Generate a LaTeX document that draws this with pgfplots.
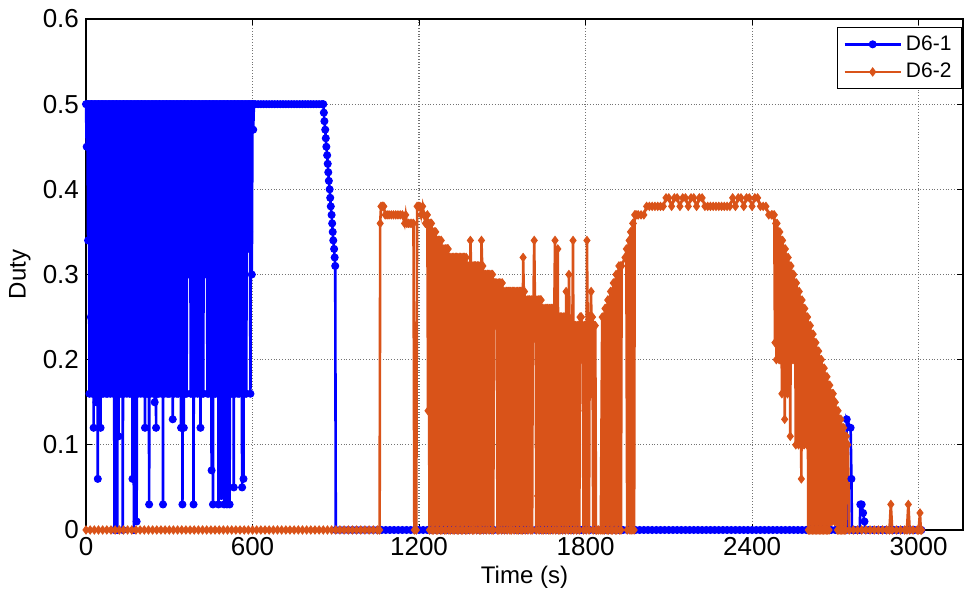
\documentclass[border=0pt]{standalone}
\usepackage{fontspec}
\setmainfont{Liberation Sans}
\usepackage{pgfplots}
\pgfplotsset{compat=1.18}
\definecolor{mblue}{RGB}{0,0,255}
\definecolor{morange}{RGB}{217,83,25}
\begin{document}
\begin{tikzpicture}
\useasboundingbox (-43pt,-34.5pt) rectangle (440pt,265pt);
\begin{axis}[
  at={(0,0)}, anchor=south west,
  scale only axis, width=438.5pt, height=255.5pt,
  xmin=0, xmax=3160, ymin=0, ymax=0.6,
  xtick={0,600,1200,1800,2400,3000},
  ytick={0,0.1,0.2,0.3,0.4,0.5,0.6},
  yticklabels={0,0.1,0.2,0.3,0.4,0.5,0.6},
  grid=major,
  grid style={black!55, densely dotted, line width=0.55pt},
  tick align=inside, major tick length=3pt,
  tick style={black, line width=0.5pt},
  axis line style={black, line width=0.6pt},
  /pgf/number format/assume math mode=true,
  /pgf/number format/1000 sep={},
  ticklabel style={font=\fontsize{13}{15}\selectfont},
  xlabel={Time (s)}, ylabel={Duty},
  every axis x label/.style={at={(axis description cs:0.5,-0.092)}, anchor=center},
  every axis y label/.style={at={(axis description cs:-0.0753,0.5)}, anchor=center, rotate=90},
  label style={font=\fontsize{12}{14}\selectfont},
  clip=false,
  legend style={at={(1,1)}, anchor=north east, xshift=-0.5pt, yshift=-4pt, draw=black, line width=0.5pt,
    font=\fontsize{10.5}{12}\selectfont, inner xsep=3pt, inner ysep=2pt, row sep=1pt, cells={anchor=west}},
  legend image code/.code={\draw[mark repeat=2,mark phase=2,#1] plot coordinates {(0pt,0pt) (14pt,0pt) (28pt,0pt)};},
]
\addplot[color=mblue, line width=1.3pt, mark=*, mark size=1.75pt, mark options={solid, fill=mblue, line width=0.5pt}] coordinates {
(0,0.5)(2.5,0.45)(5,0.5)(7.5,0.34)(10,0.5)(12.5,0.16)(15,0.5)(17.5,0.25)(20,0.5)(22.5,0.16)(25,0.5)(27.5,0.12)(30,0.5)(32.5,0.16)(35,0.5)(37.5,0.15)(40,0.5)(42.5,0.06)(45,0.5)(47.5,0.16)(50,0.5)(52.5,0.12)(55,0.5)(57.5,0.16)(60,0.5)(62.5,0.16)(65,0.5)(67.5,0.26)(70,0.5)(72.5,0.16)(75,0.5)(77.5,0.16)(80,0.5)(82.5,0.2)(85,0.5)(87.5,0.16)(90,0.5)(92.5,0.3)(95,0.5)(97.5,0.16)
(100,0.5)(102.5,0)(105,0.5)(107.5,0.16)(110,0.5)(112.5,0)(115,0.5)(117.5,0.11)(120,0.5)(122.5,0.16)(125,0.5)(127.5,0.16)(130,0.5)(132.5,0)(135,0.5)(137.5,0.16)(140,0.5)(142.5,0.2)(145,0.5)(147.5,0.16)(150,0.5)(152.5,0.38)(155,0.5)(157.5,0.16)(160,0.5)(162.5,0.16)(165,0.5)(167.5,0.06)(170,0.5)(172.5,0)(175,0.5)(177.5,0.16)(180,0.5)(182.5,0.01)(185,0.5)(187.5,0.16)(190,0.5)(192.5,0.3)(195,0.5)(197.5,0.16)
(200,0.5)(202.5,0.26)(205,0.5)(207.5,0.16)(210,0.5)(212.5,0.12)(215,0.5)(217.5,0.16)(220,0.5)(222.5,0.16)(225,0.5)(227.5,0.03)(230,0.5)(232.5,0.16)(235,0.5)(237.5,0.3)(240,0.5)(242.5,0.16)(245,0.5)(247.5,0.15)(250,0.5)(252.5,0.12)(255,0.5)(257.5,0.16)(260,0.5)(262.5,0.16)(265,0.5)(267.5,0.2)(270,0.5)(272.5,0.16)(275,0.5)(277.5,0.03)(280,0.5)(282.5,0.16)(285,0.5)(287.5,0.27)(290,0.5)(292.5,0.16)(295,0.5)(297.5,0.16)
(300,0.5)(302.5,0.16)(305,0.5)(307.5,0.3)(310,0.5)(312.5,0.13)(315,0.5)(317.5,0.16)(320,0.5)(322.5,0.25)(325,0.5)(327.5,0.16)(330,0.5)(332.5,0.16)(335,0.5)(337.5,0.2)(340,0.5)(342.5,0.12)(345,0.5)(347.5,0.03)(350,0.5)(352.5,0.12)(355,0.5)(357.5,0.16)(360,0.5)(362.5,0.16)(365,0.5)(367.5,0.3)(370,0.5)(372.5,0.38)(375,0.5)(377.5,0.16)(380,0.5)(382.5,0.16)(385,0.5)(387.5,0.03)(390,0.5)(392.5,0.16)(395,0.5)(397.5,0.2)
(400,0.5)(402.5,0.16)(405,0.5)(407.5,0.27)(410,0.5)(412.5,0.12)(415,0.5)(417.5,0.16)(420,0.5)(422.5,0.16)(425,0.5)(427.5,0.3)(430,0.5)(432.5,0.38)(435,0.5)(437.5,0.16)(440,0.5)(442.5,0.16)(445,0.5)(447.5,0.2)(450,0.5)(452.5,0.07)(455,0.5)(457.5,0.03)(460,0.5)(462.5,0.16)(465,0.5)(467.5,0.16)(470,0.5)(472.5,0.3)(475,0.5)(477.5,0.03)(480,0.5)(482.5,0.16)(485,0.5)(487.5,0.04)(490,0.5)(492.5,0.16)(495,0.5)(497.5,0.03)
(500,0.5)(502.5,0.16)(505,0.5)(507.5,0.03)(510,0.5)(512.5,0.16)(515,0.5)(517.5,0.03)(520,0.5)(522.5,0.16)(525,0.5)(527.5,0.16)(530,0.5)(532.5,0.05)(535,0.5)(537.5,0.16)(540,0.5)(542.5,0.22)(545,0.5)(547.5,0.16)(550,0.5)(552.5,0.16)(555,0.5)(557.5,0.3)(560,0.5)(562.5,0.05)(565,0.5)(567.5,0.06)(570,0.5)(572.5,0.16)(575,0.5)(577.5,0.16)(580,0.5)(582.5,0.33)(585,0.5)(587.5,0.35)(590,0.5)(592.5,0.16)(595,0.5)(597.5,0.3)(600,0.5)(602.5,0.47)(605,0.5)(610,0.5)
(620,0.5)(630,0.5)(640,0.5)(650,0.5)(660,0.5)(670,0.5)(680,0.5)(690,0.5)(700,0.5)(710,0.5)(720,0.5)(730,0.5)(740,0.5)(750,0.5)(760,0.5)(770,0.5)(780,0.5)(790,0.5)(800,0.5)(810,0.5)(820,0.5)(830,0.5)(840,0.5)(850,0.5)(855,0.5)
(857,0.49)(859,0.48)(862,0.47)(864,0.46)(866,0.45)(869,0.44)(871,0.43)(873,0.42)(875,0.41)(878,0.4)(880,0.39)(882,0.38)(885,0.37)(887,0.36)(889,0.35)(891,0.34)(894,0.33)(896,0.32)(898,0.31)(900,0)
(915,0)(930,0)(945,0)(960,0)(975,0)(990,0)(1005,0)(1020,0)(1035,0)(1050,0)(1065,0)(1080,0)(1095,0)(1110,0)(1125,0)(1140,0)(1155,0)(1170,0)(1185,0)(1200,0)(1215,0)(1230,0)(1245,0)(1260,0)(1275,0)(1290,0)(1305,0)(1320,0)(1335,0)(1350,0)(1365,0)(1380,0)(1395,0)(1410,0)(1425,0)(1440,0)(1455,0)(1470,0)(1485,0)(1500,0)(1515,0)(1530,0)(1545,0)(1560,0)(1575,0)(1590,0)(1605,0)(1620,0)(1635,0)(1650,0)(1665,0)(1680,0)(1695,0)(1710,0)(1725,0)(1740,0)(1755,0)(1770,0)(1785,0)(1800,0)(1815,0)(1830,0)(1845,0)(1860,0)(1875,0)(1890,0)(1905,0)(1920,0)(1935,0)(1950,0)(1965,0)(1980,0)(1995,0)(2010,0)(2025,0)(2040,0)(2055,0)(2070,0)(2085,0)(2100,0)(2115,0)(2130,0)(2145,0)(2160,0)(2175,0)(2190,0)(2205,0)(2220,0)(2235,0)(2250,0)(2265,0)(2280,0)(2295,0)(2310,0)(2325,0)(2340,0)(2355,0)(2370,0)(2385,0)(2400,0)(2415,0)(2430,0)(2445,0)(2460,0)(2475,0)(2490,0)(2505,0)(2520,0)(2535,0)(2550,0)(2565,0)(2580,0)(2595,0)(2610,0)(2625,0)(2640,0)(2655,0)(2670,0)(2685,0)(2700,0)(2715,0)(2730,0)
(2740,0)(2741,0.13)(2755,0.12)(2758,0.06)(2760,0)(2770,0)(2780,0)(2788,0)(2790,0.03)(2795,0.03)(2800,0.02)(2805,0.01)(2808,0)(2820,0)(2835,0)(2850,0)(2865,0)(2880,0)(2895,0)(2910,0)(2925,0)(2940,0)(2955,0)(2970,0)(2985,0)(3000,0)(3010,0)
};
\addlegendentry{D6-1}
\addplot[color=morange, line width=1.3pt, mark=diamond*, mark size=2pt, mark options={solid, fill=morange, line width=0.5pt}] coordinates {
(0,0)(15,0)(30,0)(45,0)(60,0)(75,0)(90,0)(105,0)(120,0)(135,0)(150,0)(165,0)(180,0)(195,0)(210,0)(225,0)(240,0)(255,0)(270,0)(285,0)(300,0)(315,0)(330,0)(345,0)(360,0)(375,0)(390,0)(405,0)(420,0)(435,0)(450,0)(465,0)(480,0)(495,0)(510,0)(525,0)(540,0)(555,0)(570,0)(585,0)(600,0)(615,0)(630,0)(645,0)(660,0)(675,0)(690,0)(705,0)(720,0)(735,0)(750,0)(765,0)(780,0)(795,0)(810,0)(825,0)(840,0)(855,0)(870,0)(885,0)(900,0)(915,0)(930,0)(945,0)(960,0)(975,0)(990,0)(1005,0)(1020,0)(1035,0)(1050,0)
(1058,0)(1060,0.36)(1063,0.38)(1068,0.38)(1073,0.38)(1078,0.37)(1085,0.37)(1092,0.37)(1100,0.37)(1108,0.37)(1116,0.37)(1124,0.37)(1132,0.37)(1140,0.37)(1148,0.36)(1152,0.37)(1156,0.36)(1162,0.36)(1168,0.36)(1174,0.36)(1180,0.36)(1183,0)(1190,0)(1193,0.38)(1198,0.38)(1203,0.38)(1208,0.37)(1213,0.38)(1218,0.37)(1223,0.36)(1227,0.36)
(1230,0.37)(1232.5,0.14)(1235,0.36)(1237.5,0)(1240,0.36)(1242.5,0.36)(1245,0.36)(1247.5,0)(1250,0.35)(1252.5,0)(1255,0.35)(1257.5,0.22)(1260,0.35)(1262.5,0)(1265,0.34)(1267.5,0)(1270,0.34)(1272.5,0.34)(1275,0.34)(1277.5,0)(1280,0.34)(1282.5,0)(1285,0.33)(1287.5,0.05)(1290,0.33)(1292.5,0)(1295,0.33)(1297.5,0)(1300,0.33)(1302.5,0.33)(1305,0.33)(1307.5,0)
(1310,0.32)(1312.5,0)(1315,0.32)(1317.5,0.1)(1320,0.32)(1322.5,0)(1325,0.32)(1327.5,0)(1330,0.32)(1332.5,0.32)(1335,0.32)(1337.5,0)(1340,0.32)(1342.5,0)(1345,0.32)(1347.5,0.18)(1350,0.32)(1352.5,0)(1355,0.32)(1357.5,0)(1360,0.32)(1362.5,0.32)(1365,0.32)(1367.5,0)(1370,0.32)(1372.5,0)(1375,0.31)(1377.5,0.02)(1380,0.31)(1382.5,0)(1385,0.34)(1387.5,0.31)(1390,0.31)(1392.5,0)(1395,0.31)(1397.5,0)(1400,0.31)(1402.5,0.31)(1405,0.31)(1407.5,0)
(1410,0.31)(1412.5,0.05)(1415,0.31)(1417.5,0)(1420,0.31)(1422.5,0)(1425,0.34)(1427.5,0.31)(1430,0.31)(1432.5,0)(1435,0.30)(1437.5,0.13)(1440,0.30)(1442.5,0)(1445,0.30)(1447.5,0.30)(1450,0.30)(1452.5,0)(1455,0.30)(1457.5,0.23)(1460,0.30)(1462.5,0)(1465,0.30)(1467.5,0)(1470,0.29)(1472.5,0.29)(1475,0.29)(1477.5,0.24)(1480,0.29)(1482.5,0)(1485,0.29)(1487.5,0)(1490,0.29)(1492.5,0.09)(1495,0.29)(1497.5,0)(1500,0.29)(1502.5,0.21)(1505,0.28)(1507.5,0)
(1510,0.28)(1512.5,0.08)(1515,0.28)(1517.5,0)(1520,0.28)(1522.5,0.28)(1525,0.28)(1527.5,0)(1530,0.28)(1532.5,0)(1535,0.28)(1537.5,0.28)(1540,0.28)(1542.5,0)(1545,0.28)(1547.5,0.03)(1550,0.28)(1552.5,0)(1555,0.28)(1557.5,0)(1560,0.28)(1562.5,0.28)(1565,0.28)(1567.5,0)(1570,0.28)(1572.5,0)(1575,0.32)(1577.5,0.28)(1580,0.28)(1582.5,0)(1585,0.27)(1587.5,0.12)(1590,0.27)(1592.5,0)(1595,0.27)(1597.5,0.27)(1600,0.27)(1602.5,0)(1605,0.27)(1607.5,0)
(1610,0.27)(1612.5,0.27)(1615,0.34)(1617.5,0.27)(1620,0.27)(1622.5,0)(1625,0.27)(1627.5,0.04)(1630,0.27)(1632.5,0)(1635,0.27)(1637.5,0.27)(1640,0.27)(1642.5,0)(1645,0.26)(1647.5,0)(1650,0.26)(1652.5,0.18)(1655,0.26)(1657.5,0)(1660,0.26)(1662.5,0.26)(1665,0.26)(1667.5,0)(1670,0.26)(1672.5,0)(1675,0.26)(1677.5,0.26)(1680,0.26)(1682.5,0)(1685,0.26)(1687.5,0.26)(1690,0.34)(1692.5,0)(1695,0.25)(1697.5,0.25)(1700,0.33)(1702.5,0)(1705,0.25)(1707.5,0)
(1710,0.25)(1712.5,0.25)(1715,0.25)(1717.5,0)(1720,0.25)(1722.5,0.06)(1725,0.25)(1727.5,0)(1730,0.28)(1732.5,0.25)(1735,0.25)(1737.5,0)(1740,0.30)(1742.5,0.24)(1745,0.24)(1747.5,0)(1750,0.24)(1752.5,0.24)(1755,0.34)(1757.5,0)(1760,0.24)(1762.5,0.24)(1765,0.24)(1767.5,0)(1770,0.24)(1772.5,0.14)(1775,0.24)(1777.5,0)(1780,0.25)(1782.5,0.25)(1785,0.25)(1787.5,0.20)(1790,0.24)(1792.5,0)(1795,0.24)(1797.5,0.24)(1800,0.24)(1802.5,0)(1805,0.34)(1807.5,0.24)
(1810,0.24)(1812.5,0)(1815,0.25)(1817.5,0.25)(1820,0.28)(1822.5,0.16)(1825,0.25)(1827.5,0)(1830,0.24)(1832.5,0.24)(1835,0.24)(1837.5,0)(1840,0)(1847,0)(1855,0)
(1860,0.25)(1862.5,0)(1865,0.25)(1867.5,0)(1870,0.26)(1872.5,0.26)(1875,0.26)(1877.5,0)(1880,0.27)(1882.5,0)(1885,0.27)(1887.5,0.27)(1890,0.28)(1892.5,0)(1895,0.28)(1897.5,0)(1900,0.29)(1902.5,0.29)(1905,0.29)(1907.5,0)(1910,0.30)(1912.5,0)(1915,0.30)(1917.5,0.30)(1920,0.31)(1922.5,0)(1925,0.31)(1927.5,0)(1930,0.31)(1942,0.32)(1945,0.32)(1947,0.33)(1950,0)(1953,0.33)(1957,0.34)(1960,0)(1962,0.35)(1965,0.35)(1967,0)(1970,0.36)(1972,0.36)(1975,0)(1977,0.37)(1981,0.37)(1985,0.37)
(1990,0.37)(2000,0.37)(2010,0.37)(2020,0.38)(2030,0.38)(2040,0.38)(2050,0.38)(2060,0.38)(2070,0.38)(2080,0.38)(2090,0.39)(2100,0.39)(2110,0.38)(2120,0.39)(2130,0.39)(2140,0.38)(2150,0.39)(2160,0.39)(2170,0.38)(2180,0.39)(2190,0.39)(2200,0.38)(2210,0.39)(2220,0.39)(2230,0.38)(2240,0.38)(2250,0.38)(2260,0.38)(2270,0.38)(2280,0.38)(2290,0.38)(2300,0.38)(2310,0.38)(2320,0.38)(2330,0.39)(2340,0.38)(2350,0.39)(2360,0.39)(2370,0.38)(2380,0.39)(2390,0.39)(2400,0.38)(2410,0.39)(2420,0.39)(2430,0.38)(2440,0.38)(2450,0.38)(2460,0.37)(2470,0.37)(2475,0.37)
(2480,0.37)(2482.5,0.22)(2485,0.36)(2487.5,0.20)(2490,0.36)(2492.5,0.22)(2495,0.35)(2497.5,0.20)(2500,0.35)(2502.5,0.2)(2505,0.34)(2507.5,0.16)(2510,0.34)(2512.5,0.2)(2515,0.33)(2517.5,0.13)(2520,0.33)(2522.5,0.2)(2525,0.32)(2527.5,0.16)(2530,0.32)(2532.5,0.2)(2535,0.31)(2537.5,0.11)(2540,0.31)(2542.5,0.2)(2545,0.30)(2547.5,0.2)(2550,0.30)(2552.5,0.21)(2555,0.29)(2557.5,0.1)(2560,0.29)(2562.5,0.2)(2565,0.28)(2567.5,0.10)(2570,0.28)(2572.5,0.2)(2575,0.27)(2577.5,0.06)(2580,0.27)(2582.5,0.2)(2585,0.26)(2587.5,0.10)(2590,0.26)(2592.5,0.2)(2595,0.25)(2597.5,0.10)(2600,0.25)
(2602.5,0)(2605,0.24)(2607.5,0)(2610,0.24)(2612.5,0)(2615,0.23)(2617.5,0)(2620,0.23)(2622.5,0)(2625,0.22)(2627.5,0)(2630,0.22)(2632.5,0)(2635,0.21)(2637.5,0)(2640,0.21)(2642.5,0)(2645,0.20)(2647.5,0)(2650,0.20)(2652.5,0)(2655,0.19)(2657.5,0)(2660,0.19)(2662.5,0)(2665,0.18)(2667.5,0)(2670,0.18)(2672.5,0)(2675,0.17)(2677.5,0)(2680,0.17)(2682.5,0.01)(2685,0.16)(2687.5,0.01)(2690,0.16)(2692.5,0.16)(2695,0.15)(2697.5,0.01)(2700,0.15)(2702.5,0.01)(2705,0.14)(2707.5,0)(2710,0.14)(2712.5,0)(2715,0.13)(2717.5,0)(2720,0.13)(2722.5,0)(2725,0.12)(2727.5,0)(2730,0.12)(2732.5,0)(2735,0.11)(2737.5,0)(2740,0.11)(2745,0.10)(2750,0)
(2765,0)(2780,0)(2795,0)(2810,0)(2825,0)(2840,0)(2855,0)(2870,0)(2885,0)(2895,0)(2900,0.03)(2905,0)(2920,0)(2935,0)(2950,0)(2958,0)(2963,0.03)(2968,0)(2980,0)(2995,0)(3000,0)(3005,0.02)(3008,0)(3011,0)
};
\addlegendentry{D6-2}
\end{axis}
\end{tikzpicture}
\end{document}
